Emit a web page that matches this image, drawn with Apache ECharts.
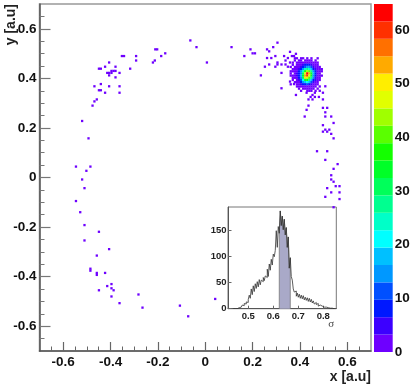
<!DOCTYPE html>
<html>
<head>
<meta charset="utf-8">
<style>html,body{margin:0;padding:0;background:#fff}#main{width:413px;height:387px}</style>
<script src="https://cdn.jsdelivr.net/npm/echarts@6/dist/echarts.min.js"></script>
</head>
<body>
<div id="main"></div>
<script>
// single low-count cells scattered round the ring
var sparseX = [-0.063,-0.037,0.007,-0.169,-0.186,-0.213,-0.221,-0.211,-0.203,-0.292,-0.292,-0.352,-0.343,-0.317,-0.379,-0.406,-0.423,-0.449,-0.441,-0.362,-0.379,-0.396,-0.387,-0.379,-0.414,-0.406,-0.396,-0.406,-0.441,-0.468,-0.406,-0.362,-0.449,-0.441,-0.423,-0.362,-0.458,-0.468,-0.476,-0.520,-0.493,-0.546,-0.485,-0.502,-0.520,-0.510,-0.546,-0.528,-0.510,-0.449,-0.510,-0.406,-0.458,-0.485,-0.485,-0.458,-0.458,-0.423,-0.396,-0.414,-0.396,-0.387,-0.449,-0.396,-0.362,-0.282,-0.265,-0.107,-0.072,0.042,
  0.111,0.191,0.200,0.210,0.165,0.261,0.270,0.287,0.305,0.296,0.261,0.279,0.270,0.252,0.296,0.305,0.305,0.322,0.339,0.333,0.349,0.339,0.358,0.366,0.375,0.383,0.358,0.349,0.322,0.235,0.358,0.375,0.322,0.383,0.436,0.428,0.420,0.497,0.515,0.507,0.507,0.532,0.542,0.497,0.507,0.524,0.497,0.515,0.532,0.542,0.472,0.515,0.507,0.559,0.542,0.532,0.532,0.542,0.551,0.567,0.515,0.532,0.567,0.507,0.567,0.542,
  0.428,0.463,0.453,0.445,0.463,0.480,0.436,0.453,0.497,0.497,0.507];
var sparseY = [0.553,0.526,0.464,0.501,0.490,0.472,0.464,0.517,0.517,0.490,0.472,0.490,0.490,0.439,0.447,0.464,0.447,0.439,0.439,0.422,0.404,0.430,0.430,0.430,0.422,0.422,0.422,0.412,0.377,0.368,0.368,0.368,0.352,0.352,0.342,0.342,0.315,0.307,0.290,0.228,0.158,0.044,0.044,0.027,-0.008,-0.043,-0.095,-0.140,-0.192,-0.219,-0.254,-0.289,-0.315,-0.368,-0.376,-0.385,-0.393,-0.385,-0.430,-0.438,-0.447,-0.455,-0.455,-0.480,-0.507,-0.472,-0.525,-0.517,-0.560,-0.490,
  0.526,0.517,0.501,0.501,0.490,0.517,0.509,0.526,0.544,0.490,0.482,0.482,0.456,0.447,0.447,0.464,0.456,0.456,0.456,0.490,0.482,0.472,0.507,0.490,0.490,0.499,0.464,0.447,0.422,0.412,0.387,0.377,0.360,0.333,0.290,0.273,0.246,0.281,0.281,0.263,0.246,0.246,0.220,0.211,0.193,0.193,0.185,0.185,0.176,0.158,0.106,0.106,0.071,0.054,0.035,0.009,-0.008,-0.017,-0.035,-0.035,-0.043,-0.060,-0.060,-0.078,-0.087,-0.120,
  0.342,0.342,0.333,0.325,0.325,0.325,0.315,0.315,0.315,0.342,0.368];

// dense blob, one row per y bin from the top
var blobX0 = 0.361, blobY0 = 0.481, blobBin = 0.00875;
var blobRows = [
  [0,0,1,1,0,1,1,0,1,0,1,0,0,1,0,0],
  [0,0,1,0,1,1,0,1,2,1,1,0,1,0,0,0],
  [0,1,0,1,2,1,2,2,3,2,1,2,1,1,0,0],
  [0,1,0,1,2,3,5,7,8,7,5,3,2,1,0,0],
  [1,0,1,2,3,6,9,12,16,14,10,6,3,2,1,0],
  [0,1,1,3,5,9,16,24,28,25,18,9,5,2,1,1],
  [1,1,2,3,7,13,24,36,44,42,28,14,7,3,2,1],
  [1,0,2,4,8,16,32,46,64,52,34,17,8,3,2,0],
  [1,2,1,4,8,17,34,54,60,48,34,16,8,3,1,1],
  [0,1,2,3,7,15,30,50,48,40,28,13,6,2,1,0],
  [0,1,0,3,5,10,22,34,36,28,17,9,4,2,1,0],
  [0,0,1,2,3,7,13,18,21,17,10,5,3,1,0,0],
  [1,0,0,1,2,4,7,9,10,8,5,3,2,1,0,0],
  [0,0,0,1,1,1,2,3,3,3,2,2,1,0,1,0],
  [0,0,0,0,1,0,1,1,2,1,2,1,0,1,0,0],
  [0,0,0,0,0,1,0,0,1,1,1,0,1,0,1,0]
];

// palette bottom to top
var palette = ['#6e00ff','#3c00ff','#0018ff','#0050ff','#0098ff','#00c0ff','#00ffff','#00ffc8','#00ff90','#00ff5a','#00ff28','#14ff00','#5aff00','#a0ff00','#e1ff00','#ffee00','#ffaa00','#ff7000','#ff3000','#ff0000'];
var zMax = 64.84;

var majorTicks = [-0.6,-0.4,-0.2,0,0.2,0.4,0.6];
var minorTicks = [-0.65,-0.55,-0.5,-0.45,-0.35,-0.3,-0.25,-0.15,-0.1,-0.05,0.05,0.1,0.15,0.25,0.3,0.35,0.45,0.5,0.55,0.65];

// inset histogram
var histStart = 0.44, histBin = 0.004;
var histValues = [0,0,0,0,1,2,1,3,5,7,6,10,9,13,12,18,26,20,38,27,44,33,48,39,52,42,56,46,55,52,60,54,63,60,76,62,86,74,95,84,105,100,112,150,118,158,145,188,160,178,152,172,142,156,118,138,78,98,62,55,38,32,34,24,30,22,28,20,26,19,25,17,22,16,21,14,20,13,18,11,15,9,12,8,10,5,7,4,5,3,3,1,3,1,2,1,1,0,1,0,0,0,0];
var shadeFrom = 46, shadeTo = 57;
var insetTicks = [0.5,0.6,0.7,0.8];

var font = 'Liberation Sans';

function cellColor(p) {
  var k = Math.min(19, Math.floor(p.value[2] / (zMax / 20)));
  return palette[k];
}

var cells = [];
for (var i = 0; i < sparseX.length; i++) cells.push([sparseX[i], sparseY[i], 1]);
blobRows.forEach(function (row, r) {
  row.forEach(function (v, c) {
    if (v > 0) cells.push([blobX0 + c * blobBin, blobY0 - r * blobBin, v]);
  });
});

var histData = histValues.map(function (v, i) { return [histStart + i * histBin, v]; });
var shadeData = histData.slice(shadeFrom, shadeTo + 1);
shadeData.unshift([shadeData[0][0], 0]);
shadeData.push([shadeData[shadeData.length - 1][0], 0]);

var barSeries = palette.map(function (c) {
  return {
    type: 'bar', stack: 'z', xAxisIndex: 3, yAxisIndex: 3, barWidth: '100%',
    itemStyle: { color: c }, silent: true, data: [zMax / 20]
  };
});

var labelStyle = { fontFamily: font, fontWeight: 'bold', fontSize: 13.5, color: '#111' };

var option = {
  animation: false,
  backgroundColor: '#fff',
  grid: [
    { left: 39.5, top: 4, width: 331.5, height: 347, outerBoundsMode: 'none', show: true, borderColor: '#999', borderWidth: 1.5, backgroundColor: '#fff' },
    { left: 228, top: 207, width: 108.3, height: 101.7, outerBoundsMode: 'none', show: true, borderColor: '#777', borderWidth: 1, backgroundColor: '#fff' },
    { left: 374, top: 4, width: 18.7, height: 348, outerBoundsMode: 'none' }
  ],
  xAxis: [
    {
      gridIndex: 0, type: 'value', min: -0.7, max: 0.7, position: 'bottom', splitLine: { show: false },
      name: 'x [a.u]', nameLocation: 'end', nameGap: 0, nameMoveOverlap: false,
      nameTextStyle: { fontFamily: font, fontWeight: 'bold', fontSize: 14, color: '#222', align: 'right', verticalAlign: 'top', padding: [19, 0, 0, 0] },
      axisLine: { onZero: false, lineStyle: { color: '#555', width: 1.5 } },
      axisTick: { inside: true, length: 9, lineStyle: { color: '#666', width: 1.2 }, customValues: majorTicks },
      axisLabel: Object.assign({ margin: 4, customValues: majorTicks }, labelStyle)
    },
    {
      gridIndex: 0, type: 'value', min: -0.7, max: 0.7, position: 'bottom', splitLine: { show: false },
      axisLine: { show: false, onZero: false },
      axisTick: { inside: true, length: 4.5, lineStyle: { color: '#666', width: 1 }, customValues: minorTicks },
      axisLabel: { show: false }
    },
    {
      gridIndex: 1, type: 'value', min: 0.419, max: 0.852, position: 'bottom', splitLine: { show: false },
      name: 'σ', nameLocation: 'end', nameGap: 0, nameMoveOverlap: false,
      nameTextStyle: { fontFamily: 'Liberation Serif', fontSize: 11, color: '#444', align: 'right', verticalAlign: 'top', padding: [10, 2, 0, 0] },
      axisLine: { onZero: false, lineStyle: { color: '#555', width: 1 } },
      axisTick: { inside: true, length: 3, lineStyle: { color: '#666' }, customValues: insetTicks },
      axisLabel: { margin: 3, customValues: insetTicks, fontFamily: font, fontWeight: 'bold', fontSize: 9.5, color: '#222' }
    },
    { gridIndex: 2, type: 'category', data: ['z'], show: false }
  ],
  yAxis: [
    {
      gridIndex: 0, type: 'value', min: -0.7, max: 0.7, position: 'left', splitLine: { show: false },
      name: 'y [a.u]', nameLocation: 'end', nameGap: 0, nameRotate: 90, nameMoveOverlap: false,
      nameTextStyle: { fontFamily: font, fontWeight: 'bold', fontSize: 14, color: '#222', align: 'right', verticalAlign: 'bottom', padding: [0, 0, 21, 0] },
      axisLine: { onZero: false, lineStyle: { color: '#555', width: 1.5 } },
      axisTick: { inside: true, length: 11, lineStyle: { color: '#777', width: 1.2 }, customValues: majorTicks },
      axisLabel: Object.assign({ margin: 3, customValues: majorTicks }, labelStyle)
    },
    {
      gridIndex: 0, type: 'value', min: -0.7, max: 0.7, position: 'left', splitLine: { show: false },
      axisLine: { show: false, onZero: false },
      axisTick: { inside: true, length: 5, lineStyle: { color: '#777', width: 1 }, customValues: minorTicks },
      axisLabel: { show: false }
    },
    {
      gridIndex: 1, type: 'value', min: 0, max: 195.6, interval: 50, position: 'left', splitLine: { show: false },
      axisLine: { onZero: false, lineStyle: { color: '#555', width: 1 } },
      axisTick: { inside: true, length: 3.5, lineStyle: { color: '#666' } },
      axisLabel: { margin: 1.5, showMaxLabel: false, fontFamily: font, fontWeight: 'bold', fontSize: 9.5, color: '#222' }
    },
    {
      gridIndex: 2, type: 'value', min: 0, max: zMax, interval: 10, position: 'right', splitLine: { show: false },
      axisLine: { show: false },
      axisTick: { inside: true, length: 11, lineStyle: { color: 'rgba(0,0,0,0.6)', width: 1 } },
      axisLabel: Object.assign({ margin: 2, showMaxLabel: false }, labelStyle)
    }
  ],
  series: [
    {
      type: 'scatter', xAxisIndex: 0, yAxisIndex: 0, symbol: 'rect', symbolSize: [2.3, 2.3], silent: true,
      itemStyle: { color: cellColor, opacity: 1 }, data: cells
    },
    {
      type: 'line', xAxisIndex: 2, yAxisIndex: 2, showSymbol: false, silent: true, z: 3,
      lineStyle: { color: '#777', width: 0.8 }, areaStyle: { color: '#a9a9c8', opacity: 1 }, data: shadeData
    },
    {
      type: 'line', xAxisIndex: 2, yAxisIndex: 2, showSymbol: false, silent: true, z: 4, step: 'end',
      lineStyle: { color: '#333', width: 0.8 }, data: histData
    }
  ].concat(barSeries)
};

var myChart = echarts.init(document.getElementById('main'), null, { renderer: 'canvas' });
myChart.setOption(option);
</script>
</body>
</html>
